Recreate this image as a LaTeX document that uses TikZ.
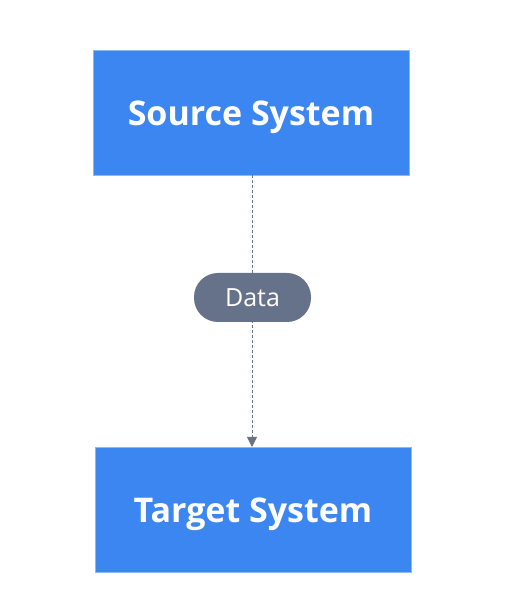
\documentclass[tikz,border=0pt]{standalone}
\usepackage{fontspec}
\setmainfont{Open Sans}[BoldFont={* Bold}]
\usetikzlibrary{arrows.meta}
\definecolor{boxblue}{HTML}{3B86F1}
\definecolor{boxedge}{HTML}{8DB8F5}
\definecolor{pillgray}{HTML}{667289}
\definecolor{linegray}{HTML}{6B7280}
\newcommand{\lowtext}[2]{\raisebox{-#1}[0pt][0pt]{#2}}
\begin{document}
\begin{tikzpicture}[x=1pt,y=1pt,
  sysbox/.style={draw=boxedge, line width=0.8pt, fill=boxblue, minimum width=316pt, minimum height=125pt, inner sep=0pt, text=white, font=\fontsize{34}{38}\selectfont\bfseries},
  pill/.style={fill=pillgray, rounded corners=24pt, minimum width=117pt, minimum height=49pt, inner sep=0pt, text=white, font=\fontsize{25}{28}\selectfont},
  flow/.style={draw=linegray, line width=0.8pt, dash pattern=on 3pt off 2pt, -{Triangle[width=10pt,length=10pt]}}]
\useasboundingbox (0,0) rectangle (514,616);
\fill[white] (0,0) rectangle (514,616);
\node[sysbox] (src) at (251,503.5) {\lowtext{13pt}{Source System}};
\node[sysbox] (tgt) at (253,106.5) {\lowtext{13.5pt}{Target System}};
\coordinate (top) at (252,441);
\coordinate (bot) at (252,169);
\draw[flow] (top) -- (bot);
\node[pill] (data) at (252.5,318.5) {\lowtext{9pt}{Data}};
\end{tikzpicture}
\end{document}
